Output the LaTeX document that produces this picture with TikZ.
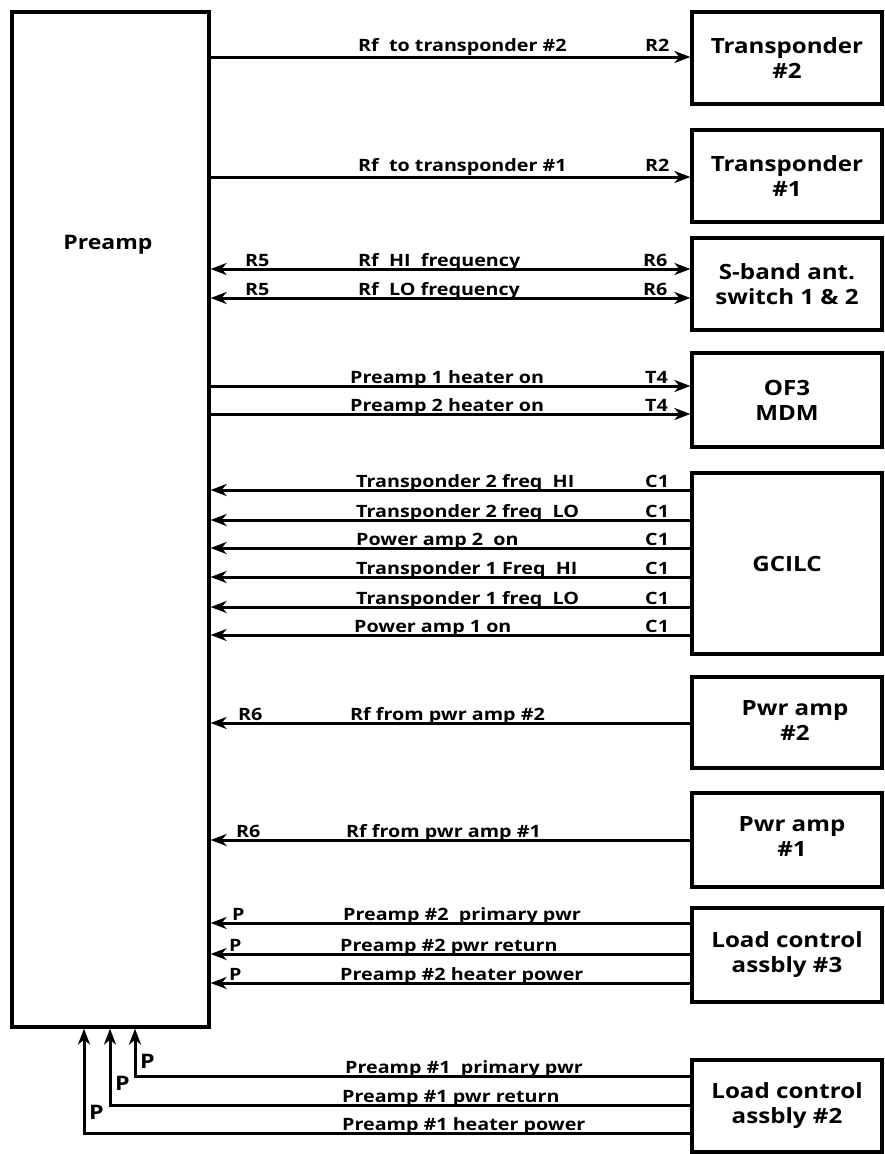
\documentclass[tikz,border=0pt]{standalone}
\usepackage{fontspec}
\setmainfont{Open Sans}
\usepackage{graphicx}
\usetikzlibrary{arrows.meta}
\newcommand\hs[1]{\scalebox{1.15}[1]{#1}}
\newcommand\hl[1]{\scalebox{1.16}[1]{#1}}
\begin{document}
\begin{tikzpicture}[x=1pt,y=-1pt,
  >={Stealth[length=16pt,width=12pt,inset=5pt]},
  box/.style={draw,line width=3.2pt,minimum width=190pt,inner sep=0pt,align=center,
    font=\bfseries\fontsize{21}{25}\selectfont},
  conn/.style={line width=3pt},
  lab/.style={anchor=base west,inner sep=0pt,font=\bfseries\fontsize{17}{20}\selectfont},
  plab/.style={anchor=base west,inner sep=0pt,font=\bfseries\fontsize{20}{22}\selectfont}]
\useasboundingbox (0,0) rectangle (884,1154);
% boxes
\node[box,minimum width=197pt,minimum height=1015pt] (pre) at (110.5,519.5) {};
\node[font=\bfseries\fontsize{20}{22}\selectfont,inner sep=0pt] (pret) at (108,245) {\hs{Preamp}};
\node[box,minimum height=92pt] (t2) at (787,58) {\hs{Transponder}\\\hs{\#2}};
\node[box,minimum height=92pt] (t1) at (787,176) {\hs{Transponder}\\\hs{\#1}};
\node[box,minimum height=92pt] (sb) at (787,284) {\hs{S-band ant.}\\\hs{switch 1 \& 2}};
\node[box,minimum height=94pt] (of) at (787,400) {\hs{OF3}\\\hs{MDM}};
\node[box,minimum height=181pt] (gc) at (787,563.5) {\hs{GCILC}};
\node[box,minimum height=91pt] (pa2) at (787,722.5) {};
\node[font=\bfseries\fontsize{21}{25}\selectfont,align=center,inner sep=0pt] (pa2t) at (795,720) {\hs{Pwr amp}\\\hs{\#2}};
\node[box,minimum height=94pt] (pa1) at (787,840) {};
\node[font=\bfseries\fontsize{21}{25}\selectfont,align=center,inner sep=0pt] (pa1t) at (792,836) {\hs{Pwr amp}\\\hs{\#1}};
\node[box,minimum height=94pt] (lc3) at (787,955) {\hs{Load control}\\\hs{assbly \#3}};
\node[box,minimum height=92pt] (lc2) at (787,1106) {\hs{Load control}\\\hs{assbly \#2}};
% row coordinates
\coordinate (r1) at (0,57);
\coordinate (r2) at (0,177);
\coordinate (r3) at (0,269);
\coordinate (r4) at (0,298);
\coordinate (r5) at (0,386);
\coordinate (r6) at (0,414);
\coordinate (r7) at (0,490);
\coordinate (r8) at (0,520);
\coordinate (r9) at (0,548);
\coordinate (r10) at (0,577);
\coordinate (r11) at (0,607);
\coordinate (r12) at (0,635);
\coordinate (r13) at (0,723);
\coordinate (r14) at (0,840);
\coordinate (r15) at (0,923);
\coordinate (r16) at (0,954);
\coordinate (r17) at (0,983);
\coordinate (r18) at (0,1076);
\coordinate (r19) at (0,1105);
\coordinate (r20) at (0,1133);
\coordinate (v1) at (135,0);
\coordinate (v2) at (110,0);
\coordinate (v3) at (84,0);
% connectors
\draw[conn,->] (pre.east |- r1) -- (t2.west |- r1);
\draw[conn,->] (pre.east |- r2) -- (t1.west |- r2);
\draw[conn,<->] (pre.east |- r3) -- (sb.west |- r3);
\draw[conn,<->] (pre.east |- r4) -- (sb.west |- r4);
\draw[conn,->] (pre.east |- r5) -- (of.west |- r5);
\draw[conn,->] (pre.east |- r6) -- (of.west |- r6);
\draw[conn,<-] (pre.east |- r7) -- (gc.west |- r7);
\draw[conn,<-] (pre.east |- r8) -- (gc.west |- r8);
\draw[conn,<-] (pre.east |- r9) -- (gc.west |- r9);
\draw[conn,<-] (pre.east |- r10) -- (gc.west |- r10);
\draw[conn,<-] (pre.east |- r11) -- (gc.west |- r11);
\draw[conn,<-] (pre.east |- r12) -- (gc.west |- r12);
\draw[conn,<-] (pre.east |- r13) -- (pa2.west |- r13);
\draw[conn,<-] (pre.east |- r14) -- (pa1.west |- r14);
\draw[conn,<-] (pre.east |- r15) -- (lc3.west |- r15);
\draw[conn,<-] (pre.east |- r16) -- (lc3.west |- r16);
\draw[conn,<-] (pre.east |- r17) -- (lc3.west |- r17);
\draw[conn,->] (lc2.west |- r18) -- (v1 |- r18) -- (v1 |- pre.south);
\draw[conn,->] (lc2.west |- r19) -- (v2 |- r19) -- (v2 |- pre.south);
\draw[conn,->] (lc2.west |- r20) -- (v3 |- r20) -- (v3 |- pre.south);
% labels
\node[lab] (a1) at (358,51) {\hl{Rf\ \ to transponder \#2}};
\node[lab] (b1) at (645,51) {\hl{R2}};
\node[lab] (a2) at (358,171) {\hl{Rf\ \ to transponder \#1}};
\node[lab] (b2) at (645,171) {\hl{R2}};
\node[lab] (c3) at (245,266) {\hl{R5}};
\node[lab] (a3) at (358,266) {\hl{Rf\ \ HI\ \ frequency}};
\node[lab] (b3) at (643,266) {\hl{R6}};
\node[lab] (c4) at (245,295) {\hl{R5}};
\node[lab] (a4) at (358,295) {\hl{Rf\ \ LO frequency}};
\node[lab] (b4) at (643,295) {\hl{R6}};
\node[lab] (a5) at (350,383) {\hl{Preamp 1 heater on}};
\node[lab] (b5) at (645,383) {\hl{T4}};
\node[lab] (a6) at (350,411) {\hl{Preamp 2 heater on}};
\node[lab] (b6) at (645,411) {\hl{T4}};
\node[lab] (a7) at (356,487) {\hl{Transponder 2 freq\ \ HI}};
\node[lab] (b7) at (645,487) {\hl{C1}};
\node[lab] (a8) at (356,517) {\hl{Transponder 2 freq\ \ LO}};
\node[lab] (b8) at (645,517) {\hl{C1}};
\node[lab] (a9) at (356,545) {\hl{Power amp 2\ \ on}};
\node[lab] (b9) at (645,545) {\hl{C1}};
\node[lab] (a10) at (356,574) {\hl{Transponder 1 Freq\ \ HI}};
\node[lab] (b10) at (645,574) {\hl{C1}};
\node[lab] (a11) at (356,604) {\hl{Transponder 1 freq\ \ LO}};
\node[lab] (b11) at (645,604) {\hl{C1}};
\node[lab] (a12) at (354,632) {\hl{Power amp 1 on}};
\node[lab] (b12) at (645,632) {\hl{C1}};
\node[lab] (c13) at (238,720) {\hl{R6}};
\node[lab] (a13) at (350,720) {\hl{Rf from pwr amp \#2}};
\node[lab] (c14) at (236,837) {\hl{R6}};
\node[lab] (a14) at (346,837) {\hl{Rf from pwr amp \#1}};
\node[lab] (c15) at (232,920) {\hl{P}};
\node[lab] (a15) at (343,920) {\hl{Preamp \#2\ \ primary pwr}};
\node[lab] (c16) at (229,951) {\hl{P}};
\node[lab] (a16) at (340,951) {\hl{Preamp \#2 pwr return}};
\node[lab] (c17) at (229,980) {\hl{P}};
\node[lab] (a17) at (340,980) {\hl{Preamp \#2 heater power}};
\node[lab] (a18) at (345,1073) {\hl{Preamp \#1\ \ primary pwr}};
\node[lab] (a19) at (342,1102) {\hl{Preamp \#1 pwr return}};
\node[lab] (a20) at (342,1130) {\hl{Preamp \#1 heater power}};
\node[plab] (p18) at (140,1068) {\hl{P}};
\node[plab] (p19) at (115,1090) {\hl{P}};
\node[plab] (p20) at (89,1119) {\hl{P}};
\end{tikzpicture}
\end{document}
